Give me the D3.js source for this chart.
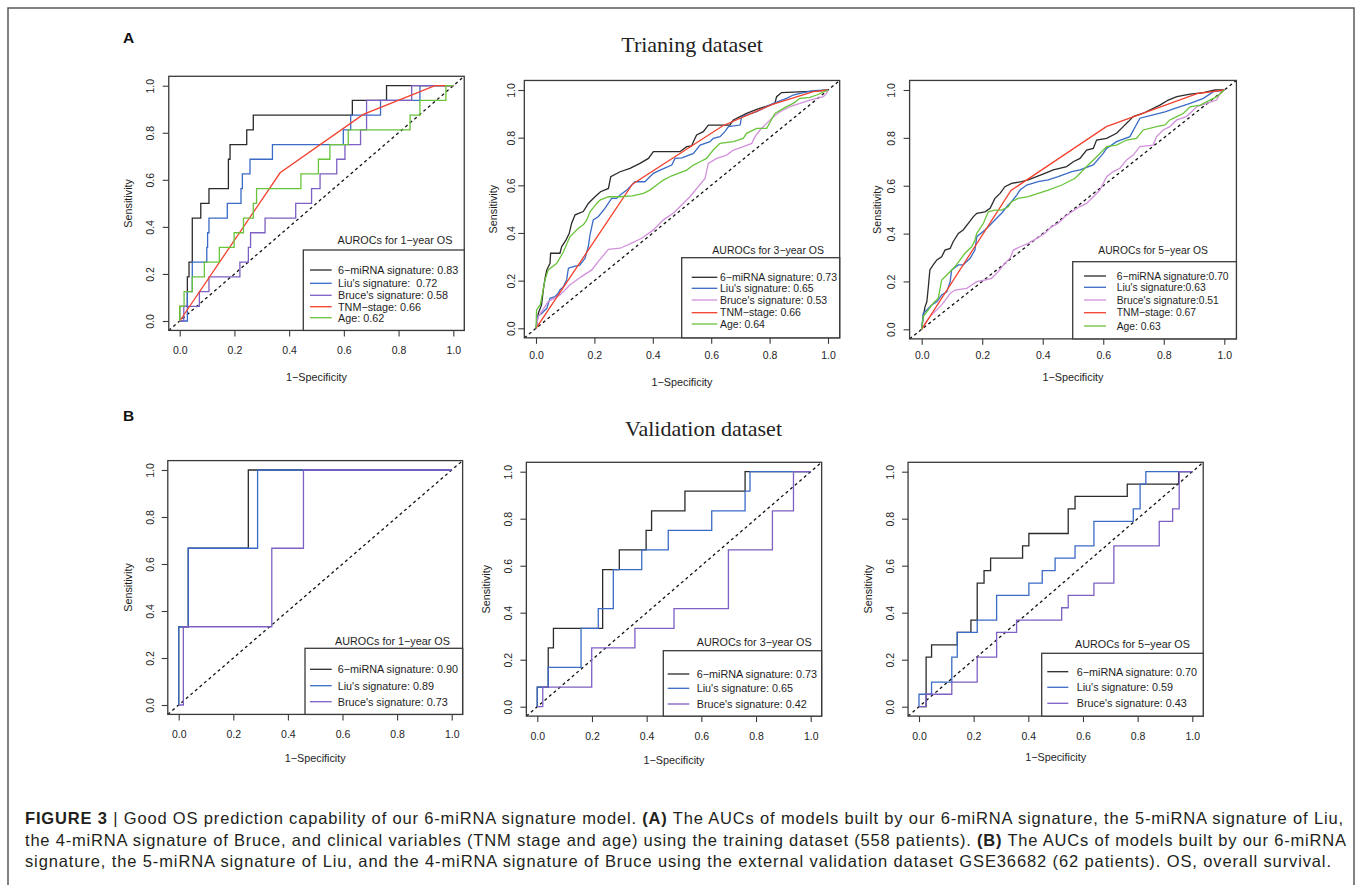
<!DOCTYPE html>
<html>
<head>
<meta charset="utf-8">
<script src="https://cdn.jsdelivr.net/npm/d3@7"></script>
<style>
  body { margin: 0; background: #fff; }
  svg { display: block; }
</style>
</head>
<body>
<div id="fig"></div>
<script>
// ---- data: [1-specificity, sensitivity] ----
const ticks = [0, 0.2, 0.4, 0.6, 0.8, 1.0];

// training, 1-year (step curves)
const trainMirna1 = [[0,0],[0.028,0.0625],[0.034,0.1875],[0.046,0.25],[0.077,0.4375],[0.107,0.5],[0.178,0.5625],[0.184,0.6875],[0.245,0.75],[0.269,0.8125],[0.631,0.875],[0.756,0.9375],[1,1]];
const trainLiu1 = [[0,0],[0.028,0],[0.046,0.125],[0.099,0.25],[0.102,0.3125],[0.107,0.375],[0.174,0.4375],[0.224,0.5],[0.229,0.5625],[0.257,0.625],[0.339,0.6875],[0.598,0.75],[0.625,0.8125],[0.734,0.875],[0.878,0.9375],[1,1]];
const trainBruce1 = [[0,0],[0.015,0],[0.072,0.0625],[0.107,0.125],[0.22,0.1875],[0.251,0.25],[0.259,0.3125],[0.312,0.375],[0.424,0.4375],[0.482,0.5],[0.513,0.5625],[0.574,0.625],[0.604,0.6875],[0.661,0.75],[0.683,0.8125],[0.848,0.9375],[1,1]];
const trainTnm1 = [[0,0],[0.367,0.63],[0.671,0.878],[0.933,1],[1,1]];
const trainAge1 = [[0,0],[0.016,0.0625],[0.046,0.125],[0.09,0.1875],[0.145,0.25],[0.199,0.3125],[0.233,0.375],[0.269,0.4375],[0.281,0.5],[0.443,0.5625],[0.507,0.625],[0.549,0.6875],[0.616,0.75],[0.842,0.8125],[0.878,0.875],[0.973,0.9375],[1,1]];

// training, 3-year
const trainMirna3 = [[0,0],[0.008,0.063],[0.019,0.098],[0.025,0.161],[0.031,0.21],[0.037,0.245],[0.048,0.273],[0.05,0.315],[0.082,0.315],[0.088,0.343],[0.103,0.371],[0.114,0.399],[0.122,0.441],[0.134,0.476],[0.162,0.49],[0.179,0.524],[0.202,0.552],[0.221,0.573],[0.248,0.587],[0.256,0.636],[0.288,0.657],[0.322,0.671],[0.356,0.692],[0.385,0.713],[0.402,0.741],[0.493,0.741],[0.516,0.762],[0.533,0.765],[0.539,0.783],[0.55,0.811],[0.573,0.825],[0.59,0.853],[0.664,0.853],[0.676,0.874],[0.699,0.888],[0.721,0.902],[0.756,0.919],[0.801,0.937],[0.818,0.944],[0.824,0.972],[0.841,0.989],[0.96,0.995],[1,1]];
const trainLiu3 = [[0,0],[0.005,0.049],[0.02,0.063],[0.037,0.084],[0.048,0.126],[0.065,0.133],[0.076,0.147],[0.082,0.161],[0.094,0.175],[0.105,0.203],[0.111,0.252],[0.128,0.259],[0.15,0.265],[0.168,0.294],[0.174,0.321],[0.179,0.342],[0.185,0.392],[0.19,0.42],[0.196,0.455],[0.213,0.468],[0.236,0.503],[0.259,0.545],[0.276,0.545],[0.288,0.559],[0.311,0.58],[0.328,0.601],[0.339,0.615],[0.373,0.615],[0.402,0.65],[0.425,0.664],[0.465,0.685],[0.476,0.713],[0.5,0.715],[0.539,0.734],[0.562,0.769],[0.596,0.783],[0.607,0.797],[0.63,0.804],[0.647,0.825],[0.659,0.846],[0.699,0.853],[0.704,0.888],[0.721,0.895],[0.756,0.909],[0.79,0.93],[0.813,0.944],[0.858,0.965],[0.881,0.979],[0.904,0.986],[0.95,0.997],[1,1]];
const trainBruce3 = [[0,0],[0.008,0.049],[0.042,0.112],[0.082,0.14],[0.116,0.182],[0.156,0.217],[0.191,0.245],[0.213,0.28],[0.248,0.331],[0.288,0.336],[0.322,0.354],[0.362,0.378],[0.402,0.413],[0.436,0.455],[0.47,0.483],[0.505,0.525],[0.527,0.552],[0.579,0.629],[0.59,0.692],[0.619,0.713],[0.653,0.727],[0.676,0.748],[0.71,0.762],[0.739,0.776],[0.75,0.804],[0.767,0.832],[0.79,0.86],[0.813,0.888],[0.836,0.909],[0.87,0.93],[0.904,0.944],[0.938,0.958],[0.984,0.972],[0.995,0.986],[1,1]];
const trainTnm3 = [[0,0],[0.33,0.605],[0.64,0.85],[0.81,0.94],[0.95,0.993],[1,1]];
const trainAge3 = [[0,0],[0.002,0.077],[0.015,0.1],[0.031,0.203],[0.042,0.245],[0.071,0.273],[0.094,0.321],[0.116,0.384],[0.145,0.42],[0.162,0.434],[0.174,0.455],[0.185,0.489],[0.208,0.524],[0.219,0.538],[0.248,0.552],[0.288,0.552],[0.33,0.556],[0.368,0.566],[0.39,0.58],[0.436,0.622],[0.465,0.64],[0.516,0.664],[0.539,0.685],[0.562,0.699],[0.584,0.713],[0.607,0.748],[0.63,0.776],[0.676,0.783],[0.71,0.797],[0.721,0.818],[0.756,0.839],[0.79,0.839],[0.818,0.902],[0.858,0.93],[0.881,0.944],[0.904,0.965],[0.938,0.969],[0.961,0.979],[1,1]];

// training, 5-year
const trainMirna5 = [[0,0],[0.005,0.053],[0.011,0.094],[0.017,0.115],[0.022,0.178],[0.027,0.248],[0.038,0.269],[0.05,0.29],[0.066,0.303],[0.077,0.331],[0.094,0.338],[0.104,0.366],[0.121,0.401],[0.137,0.415],[0.154,0.443],[0.171,0.471],[0.182,0.485],[0.209,0.491],[0.226,0.506],[0.242,0.547],[0.259,0.568],[0.275,0.596],[0.297,0.61],[0.33,0.617],[0.352,0.624],[0.407,0.652],[0.435,0.666],[0.479,0.68],[0.501,0.7],[0.523,0.714],[0.545,0.749],[0.567,0.756],[0.578,0.791],[0.611,0.798],[0.644,0.819],[0.666,0.847],[0.683,0.868],[0.699,0.889],[0.732,0.903],[0.787,0.937],[0.815,0.958],[0.843,0.972],[0.887,0.983],[0.931,0.989],[0.969,1],[1,1]];
const trainLiu5 = [[0,0],[0.005,0.067],[0.017,0.081],[0.033,0.102],[0.05,0.115],[0.066,0.143],[0.083,0.157],[0.094,0.199],[0.099,0.248],[0.121,0.269],[0.137,0.269],[0.16,0.297],[0.176,0.331],[0.182,0.387],[0.209,0.415],[0.226,0.436],[0.242,0.457],[0.264,0.485],[0.281,0.512],[0.297,0.533],[0.314,0.561],[0.325,0.582],[0.347,0.603],[0.385,0.617],[0.418,0.624],[0.451,0.638],[0.496,0.659],[0.523,0.666],[0.567,0.687],[0.6,0.735],[0.611,0.756],[0.644,0.784],[0.688,0.805],[0.721,0.882],[0.765,0.896],[0.804,0.909],[0.837,0.923],[0.887,0.944],[0.931,0.965],[0.964,0.993],[1,1]];
const trainBruce5 = [[0,0],[0.011,0.025],[0.027,0.053],[0.044,0.074],[0.066,0.102],[0.083,0.13],[0.094,0.15],[0.11,0.164],[0.149,0.171],[0.165,0.185],[0.182,0.199],[0.209,0.206],[0.231,0.213],[0.253,0.241],[0.275,0.276],[0.292,0.297],[0.303,0.331],[0.325,0.345],[0.352,0.359],[0.38,0.38],[0.407,0.401],[0.43,0.429],[0.451,0.443],[0.474,0.471],[0.496,0.491],[0.523,0.513],[0.545,0.526],[0.567,0.554],[0.589,0.582],[0.611,0.638],[0.633,0.659],[0.655,0.673],[0.677,0.708],[0.699,0.728],[0.721,0.763],[0.765,0.77],[0.776,0.805],[0.798,0.833],[0.82,0.847],[0.843,0.875],[0.875,0.889],[0.909,0.93],[0.942,0.944],[0.975,0.958],[0.986,0.986],[1,1]];
const trainTnm5 = [[0,0],[0.295,0.58],[0.61,0.847],[0.91,0.985],[1,1]];
const trainAge5 = [[0,0],[0.005,0.053],[0.022,0.081],[0.038,0.109],[0.055,0.13],[0.066,0.206],[0.083,0.227],[0.099,0.248],[0.11,0.262],[0.127,0.29],[0.143,0.318],[0.165,0.345],[0.176,0.373],[0.182,0.401],[0.204,0.443],[0.22,0.491],[0.242,0.498],[0.264,0.498],[0.286,0.512],[0.297,0.533],[0.319,0.547],[0.352,0.554],[0.385,0.568],[0.418,0.582],[0.463,0.603],[0.507,0.631],[0.545,0.68],[0.589,0.735],[0.611,0.763],[0.644,0.77],[0.677,0.791],[0.71,0.798],[0.732,0.833],[0.776,0.847],[0.804,0.854],[0.82,0.875],[0.843,0.889],[0.865,0.903],[0.887,0.93],[0.92,0.937],[0.953,0.958],[0.975,0.972],[1,1]];

// validation (step curves)
const validMirna1 = [[0,0],[0.035,0.333],[0.255,0.667],[1,1]];
const validLiu1 = [[0,0],[0.035,0.333],[0.289,0.667],[1,1]];
const validBruce1 = [[0,0],[0.017,0],[0.341,0.333],[0.457,0.667],[1,1]];
const validMirna3 = [[0,0],[0.04,0.083],[0.059,0.25],[0.239,0.333],[0.3,0.583],[0.398,0.667],[0.418,0.75],[0.54,0.833],[0.76,0.917],[1,1]];
const validLiu3 = [[0,0],[0.04,0.083],[0.16,0.167],[0.223,0.333],[0.278,0.417],[0.382,0.583],[0.479,0.667],[0.638,0.75],[0.76,0.833],[0.778,0.917],[1,1]];
const validBruce3 = [[0,0],[0.02,0],[0.199,0.083],[0.357,0.25],[0.5,0.333],[0.699,0.417],[0.86,0.667],[0.937,0.833],[1,1]];
const validMirna5 = [[0,0],[0.026,0],[0.046,0.211],[0.14,0.263],[0.19,0.316],[0.213,0.368],[0.238,0.526],[0.262,0.579],[0.379,0.632],[0.402,0.684],[0.546,0.737],[0.571,0.842],[0.762,0.895],[0.95,0.947],[1,1]];
const validLiu5 = [[0,0],[0.046,0.053],[0.12,0.105],[0.14,0.211],[0.213,0.316],[0.284,0.368],[0.402,0.474],[0.451,0.526],[0.498,0.579],[0.571,0.632],[0.64,0.684],[0.784,0.789],[0.809,0.842],[0.83,0.947],[1,1]];
const validBruce5 = [[0,0],[0.026,0],[0.12,0.053],[0.213,0.105],[0.284,0.211],[0.357,0.316],[0.522,0.368],[0.546,0.421],[0.64,0.474],[0.713,0.526],[0.879,0.684],[0.928,0.789],[0.952,0.842],[1,1]];

// legend texts
const legendTitles = ["AUROCs for 1\u2212year OS", "AUROCs for 3\u2212year OS", "AUROCs for 5\u2212year OS"];
const trainLabels1 = ["6\u2212miRNA signature: 0.83", "Liu's signature:  0.72", "Bruce's signature: 0.58", "TNM\u2212stage: 0.66", "Age: 0.62"];
const trainLabels3 = ["6\u2212miRNA signature: 0.73", "Liu's signature: 0.65", "Bruce's signature: 0.53", "TNM\u2212stage: 0.66", "Age: 0.64"];
const trainLabels5 = ["6\u2212miRNA signature:0.70", "Liu's signature:0.63", "Bruce's signature:0.51", "TNM\u2212stage: 0.67", "Age: 0.63"];
const validLabels1 = ["6\u2212miRNA signature: 0.90", "Liu's signature: 0.89", "Bruce's signature: 0.73"];
const validLabels3 = ["6\u2212miRNA signature: 0.73", "Liu's signature: 0.65", "Bruce's signature: 0.42"];
const validLabels5 = ["6\u2212miRNA signature: 0.70", "Liu's signature: 0.59", "Bruce's signature: 0.43"];

const caption = [
  [["FIGURE 3", true], [" | Good OS prediction capability of our 6-miRNA signature model. ", false], ["(A)", true], [" The AUCs of models built by our 6-miRNA signature, the 5-miRNA signature of Liu,", false]],
  [["the 4-miRNA signature of Bruce, and clinical variables (TNM stage and age) using the training dataset (558 patients). ", false], ["(B)", true], [" The AUCs of models built by our 6-miRNA", false]],
  [["signature, the 5-miRNA signature of Liu, and the 4-miRNA signature of Bruce using the external validation dataset GSE36682 (62 patients). OS, overall survival.", false]]
];

// ---- styles ----
const SANS = "'Liberation Sans', Arial, Helvetica, sans-serif";
const SERIF = "'Liberation Serif', 'Times New Roman', serif";
const INK = "#1e1e1e";
const C = { mirna: "#2b2b2b", liu: "#3a6bc6", bruce: "#7e5fc3", bruceLight: "#d291dc", tnm: "#f2412d", age: "#69c43b" };

const svg = d3.select("#fig").append("svg")
  .attr("width", 1357).attr("height", 885)
  .style("font-family", SANS);

// figure frame (open at bottom)
svg.append("path").attr("d", "M8,885V8H1354V885")
  .attr("fill", "none").attr("stroke", "#5a5a5a").attr("stroke-width", 1.5);

const trainCurves = (m, l, b, t, a, bc) => [
  { data: m, color: C.mirna }, { data: l, color: C.liu }, { data: b, color: bc },
  { data: t, color: C.tnm, linear: true }, { data: a, color: C.age }
];
const validCurves = (m, l, b) => [
  { data: m, color: C.mirna }, { data: l, color: C.liu }, { data: b, color: C.bruce }
];

const panels = [
  { x0: 179.7, x1: 453.3, y0: 321, y1: 85.7, yTickX: 150, xTickY: 350, xlabY: 377, ylabX: 128,
    legX: 303.3, legY: 250, titleX: 337.5, titleY: 240, rows: [270, 283.3, 295.3, 306.7, 317.7],
    lineX: [310, 331.7], textX: 338, fs: 10.8, step: true, title: legendTitles[0], labels: trainLabels1,
    curves: trainCurves(trainMirna1, trainLiu1, trainBruce1, trainTnm1, trainAge1, C.bruce) },
  { x0: 536, x1: 828, y0: 328.3, y1: 90, yTickX: 511.7, xTickY: 355, xlabY: 381.7, ylabX: 493.3,
    legX: 681.7, legY: 257.7, titleX: 712.3, titleY: 250, rows: [277.3, 288.3, 300, 312.7, 324],
    lineX: [691.7, 717.3], textX: 720, fs: 10.5, step: false, title: legendTitles[1], labels: trainLabels3,
    curves: trainCurves(trainMirna3, trainLiu3, trainBruce3, trainTnm3, trainAge3, C.bruceLight) },
  { x0: 921.7, x1: 1224.3, y0: 329.3, y1: 90, yTickX: 891.7, xTickY: 355, xlabY: 377.3, ylabX: 876.7,
    legX: 1072.7, legY: 261.7, titleX: 1098.3, titleY: 250, rows: [276, 287.3, 300, 312.7, 326],
    lineX: [1084, 1106], textX: 1116.7, fs: 10.3, step: false, title: legendTitles[2], labels: trainLabels5,
    curves: trainCurves(trainMirna5, trainLiu5, trainBruce5, trainTnm5, trainAge5, C.bruceLight) },
  { x0: 178.7, x1: 451.7, y0: 705, y1: 470, yTickX: 150, xTickY: 734, xlabY: 758.3, ylabX: 128.3,
    legX: 305, legY: 648.3, titleX: 335, titleY: 640.7, rows: [669.3, 685.7, 701.7],
    lineX: [310, 331.7], textX: 337.7, fs: 10.8, step: true, title: legendTitles[0], labels: validLabels1,
    curves: validCurves(validMirna1, validLiu1, validBruce1) },
  { x0: 537.3, x1: 810.7, y0: 706.7, y1: 471.7, yTickX: 508.3, xTickY: 736, xlabY: 760, ylabX: 486,
    legX: 663.3, legY: 650.7, titleX: 696.7, titleY: 641.7, rows: [674, 688.3, 704],
    lineX: [667.7, 689.3], textX: 696.7, fs: 10.8, step: true, title: legendTitles[1], labels: validLabels3,
    curves: validCurves(validMirna3, validLiu3, validBruce3) },
  { x0: 919, x1: 1192.3, y0: 706.7, y1: 471.7, yTickX: 890, xTickY: 736, xlabY: 756.7, ylabX: 868.3,
    legX: 1041.7, legY: 653.3, titleX: 1075, titleY: 644.3, rows: [671.7, 687.3, 703.3],
    lineX: [1047.3, 1068.3], textX: 1076.7, fs: 10.8, step: true, title: legendTitles[2], labels: validLabels5,
    curves: validCurves(validMirna5, validLiu5, validBruce5) }
];

function drawPanel(p) {
  const x = d3.scaleLinear().domain([0, 1]).range([p.x0, p.x1]);
  const y = d3.scaleLinear().domain([0, 1]).range([p.y0, p.y1]);
  const left = x(-0.04), right = x(1.04), top = y(1.04), bottom = y(-0.04);
  const g = svg.append("g");

  // reference diagonal
  g.append("line")
    .attr("x1", left).attr("y1", bottom).attr("x2", right).attr("y2", top)
    .attr("stroke", "#111").attr("stroke-width", 1.3).attr("stroke-dasharray", "3,3");

  // ROC curves
  p.curves.forEach(c => {
    const line = d3.line().x(d => x(d[0])).y(d => y(d[1]))
      .curve(p.step && !c.linear ? d3.curveStepBefore : d3.curveLinear);
    g.append("path").datum(c.data).attr("d", line)
      .attr("fill", "none").attr("stroke", c.color).attr("stroke-width", 1.3);
  });

  // plot box
  g.append("rect").attr("x", left).attr("y", top)
    .attr("width", right - left).attr("height", bottom - top)
    .attr("fill", "none").attr("stroke", "#3a3a3a").attr("stroke-width", 1.3);

  // axes
  const xa = g.append("g").attr("transform", `translate(0,${bottom})`)
    .call(d3.axisBottom(x).tickValues(ticks).tickFormat(d3.format(".1f")).tickSize(6).tickSizeOuter(0));
  const ya = g.append("g").attr("transform", `translate(${left},0)`)
    .call(d3.axisLeft(y).tickValues(ticks).tickFormat(d3.format(".1f")).tickSize(6).tickSizeOuter(0));
  [xa, ya].forEach(a => {
    a.attr("font-family", SANS).attr("font-size", 10.5);
    a.select(".domain").remove();
    a.selectAll("line").attr("stroke", "#3a3a3a").attr("stroke-width", 1.1);
    a.selectAll("text").attr("fill", INK);
  });
  xa.selectAll("text").attr("y", p.xTickY - bottom).attr("dy", "0.36em");
  ya.selectAll("text").attr("x", 0).attr("text-anchor", "middle").attr("dy", "0.36em")
    .attr("transform", `translate(${p.yTickX - left},0) rotate(-90)`);

  // axis labels
  g.append("text").attr("x", x(0.5)).attr("y", p.xlabY).attr("dy", "0.36em")
    .attr("text-anchor", "middle").attr("font-size", 10.8).attr("fill", INK).text("1\u2212Specificity");
  g.append("text").attr("transform", `translate(${p.ylabX},${y(0.5)}) rotate(-90)`).attr("dy", "0.36em")
    .attr("text-anchor", "middle").attr("font-size", 10.8).attr("fill", INK).text("Sensitivity");

  // legend
  g.append("text").attr("x", p.titleX).attr("y", p.titleY).attr("dy", "0.36em")
    .attr("font-size", p.fs).attr("fill", INK).text(p.title);
  g.append("rect").attr("x", p.legX).attr("y", p.legY)
    .attr("width", right - p.legX).attr("height", bottom - p.legY)
    .attr("fill", "#fff").attr("stroke", "#3a3a3a").attr("stroke-width", 1.3);
  const item = g.selectAll(".leg").data(p.labels).enter().append("g");
  item.append("line")
    .attr("x1", p.lineX[0]).attr("x2", p.lineX[1])
    .attr("y1", (d, i) => p.rows[i]).attr("y2", (d, i) => p.rows[i])
    .attr("stroke", (d, i) => p.curves[i].color).attr("stroke-width", 1.3);
  item.append("text")
    .attr("x", p.textX).attr("y", (d, i) => p.rows[i]).attr("dy", "0.36em")
    .attr("font-size", p.fs).attr("fill", INK).style("white-space", "pre").text(d => d);
}

panels.forEach(drawPanel);

// panel letters and section titles
svg.append("text").attr("x", 123).attr("y", 43).attr("font-size", 15.5).attr("font-weight", "bold")
  .attr("fill", "#111").text("A");
svg.append("text").attr("x", 123).attr("y", 421).attr("font-size", 15.5).attr("font-weight", "bold")
  .attr("fill", "#111").text("B");
svg.append("text").attr("x", 692).attr("y", 52).attr("text-anchor", "middle")
  .attr("font-family", SERIF).attr("font-size", 22).attr("fill", "#222").text("Trianing dataset");
svg.append("text").attr("x", 703.5).attr("y", 436).attr("text-anchor", "middle")
  .attr("font-family", SERIF).attr("font-size", 22).attr("fill", "#222").text("Validation dataset");

// caption
const capY = [824, 846, 867];
const capW = [1318, 1321, 1306];
caption.forEach((segs, i) => {
  const t = svg.append("text").attr("x", 25).attr("y", capY[i])
    .attr("font-size", 16.5).attr("fill", "#231f20")
    .attr("textLength", capW[i]).attr("lengthAdjust", "spacing");
  segs.forEach(s => t.append("tspan").attr("font-weight", s[1] ? "bold" : "normal").text(s[0]));
});
</script>
</body>
</html>
